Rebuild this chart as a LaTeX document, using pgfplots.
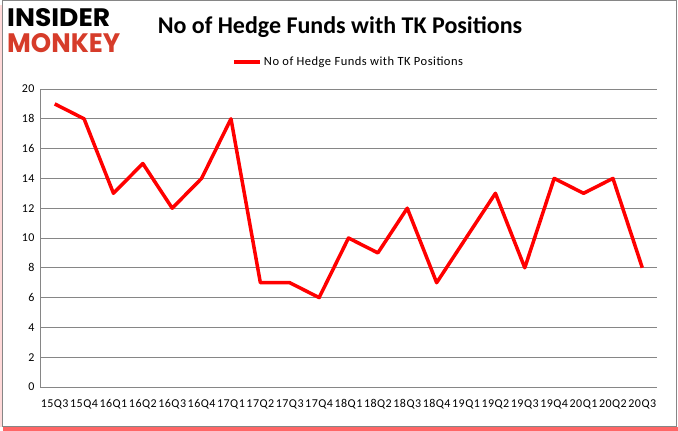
\documentclass[border=0pt]{standalone}
\usepackage{pgfplots}
\pgfplotsset{compat=1.18}
\usepackage{fontspec}
\setmainfont{Carlito}
\newfontfamily\logofont{Poppins}
\newfontfamily\spaced{Carlito}[LetterSpace=4]
\definecolor{gridg}{RGB}{134,134,134}
\definecolor{logored}{RGB}{214,60,42}
\begin{document}
\begin{tikzpicture}
\useasboundingbox (0pt,0pt) rectangle (678pt,431pt);
\fill[red!60] (3pt,0pt) rectangle (678pt,4pt);
\fill[red!15] (0pt,4pt) rectangle (2pt,426pt);
\draw[gridg,line width=1pt] (2pt,4pt) rectangle (676pt,430pt);
\node[anchor=west,inner sep=0pt] at (7pt,413pt) {\resizebox{103pt}{18pt}{\logofont\bfseries INSIDER}};
\node[anchor=west,inner sep=0pt,text=logored] at (7pt,388pt) {\resizebox{113pt}{19pt}{\logofont\bfseries MONKEY}};
\node[font=\bfseries\fontsize{24}{24}\selectfont] at (340pt,404pt) {No of Hedge Funds with TK Positions};
\begin{axis}[
  at={(40pt,44pt)}, anchor=south west,
  width=617pt, height=298pt, scale only axis,
  xmin=-0.5, xmax=20.5, ymin=0, ymax=20,
  ytick={0,2,...,20},
  xtick={0,...,20},
  xticklabels={15Q3,15Q4,16Q1,16Q2,16Q3,16Q4,17Q1,17Q2,17Q3,17Q4,18Q1,18Q2,18Q3,18Q4,19Q1,19Q2,19Q3,19Q4,20Q1,20Q2,20Q3},
  extra x ticks={-0.5,0.5,...,20.5},
  extra x tick labels={},
  extra x tick style={major tick length=5pt, tick style={gridg,line width=0.8pt}, grid=none},
  xtick style={draw=none},
  ytick style={draw=none},
  ymajorgrids, grid style={gridg,line width=0.8pt},
  axis line style={gridg,line width=0.8pt},
  axis x line*=bottom, axis y line*=left,
  tick label style={font=\spaced\fontsize{12}{12}\selectfont},
  /pgf/number format/assume math mode=true,
  xticklabel style={yshift=-9pt, inner xsep=0pt},
  yticklabel style={xshift=-2pt},
  legend style={at={(0.5,1.09)}, anchor=center, draw=none, font=\spaced\fontsize{12.5}{12.5}\selectfont, legend columns=1, inner sep=0pt},
  legend image code/.code={\draw[red,line width=4pt] (0pt,0pt) -- (26pt,0pt);},
  clip=false,
]
\addplot[red, line width=3.5pt, line join=round] coordinates {
(0,19)(1,18)(2,13)(3,15)(4,12)(5,14)(6,18)(7,7)(8,7)(9,6)(10,10)(11,9)(12,12)(13,7)(14,10)(15,13)(16,8)(17,14)(18,13)(19,14)(20,8)};
\addlegendentry{No of Hedge Funds with TK Positions}
\end{axis}
\end{tikzpicture}
\end{document}
